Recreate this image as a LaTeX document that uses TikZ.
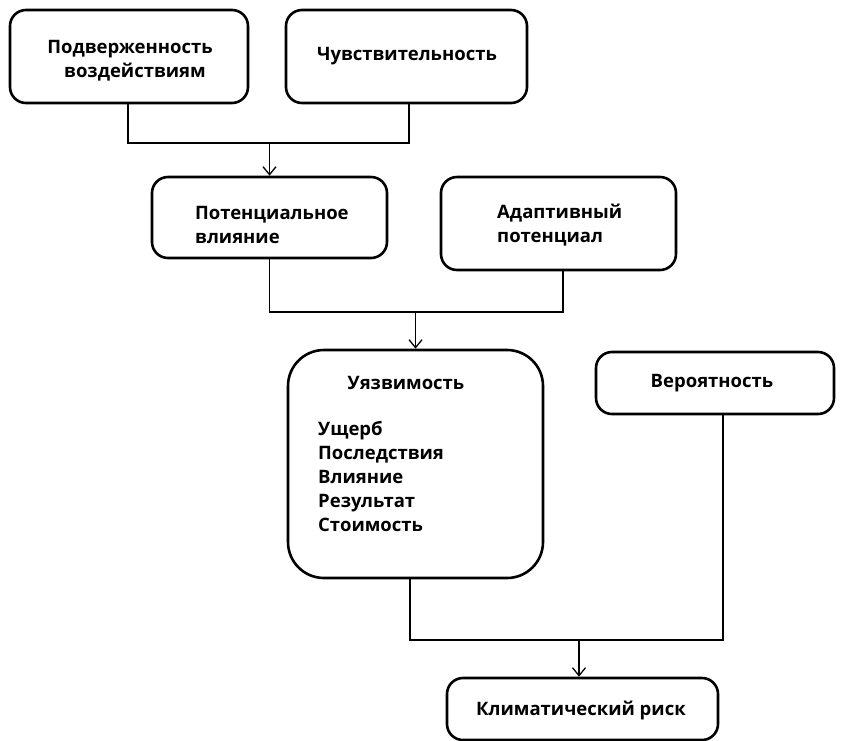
\documentclass[tikz,border=0pt]{standalone}
\usepackage{fontspec}
\setmainfont{Open Sans}
\usetikzlibrary{arrows.meta}
\begin{document}
\begin{tikzpicture}[x=1pt,y=-1pt,
  box/.style={draw, line width=2.6pt, rounded corners=16pt, inner sep=0pt},
  lbl/.style={font=\fontsize{18.5}{24}\selectfont\bfseries, inner sep=0pt, align=left, anchor=west},
  clbl/.style={font=\fontsize{18.5}{24}\selectfont\bfseries, inner sep=0pt, align=center},
  conn/.style={line width=1.3pt},
  arr/.style={line width=1.3pt, -{Straight Barb[length=8pt,width=13pt,line width=1.3pt]}}]
\useasboundingbox (0,0) rectangle (846,740);
% boxes
\node[box, minimum width=238pt, minimum height=93pt] (b1) at (129,56.5) {};
\node[box, minimum width=241pt, minimum height=93pt] (b2) at (406.5,56.5) {};
\node[box, minimum width=235pt, minimum height=81pt] (b3) at (269.5,217.5) {};
\node[box, minimum width=235pt, minimum height=93pt] (b4) at (558.5,223.5) {};
\node[box, rounded corners=36pt, minimum width=255pt, minimum height=228pt] (b5) at (415.5,464) {};
\node[box, minimum width=238pt, minimum height=62pt] (b6) at (715,383) {};
\node[box, minimum width=271pt, minimum height=62pt] (b7) at (582.5,709) {};
% texts
\node[clbl] (t1) at (130,61) {Подверженность\\\hspace*{10pt}воздействиям};
\node[clbl] (t2) at (407,56) {Чувствительность};
\node[lbl] (t3) at (195,225) {Потенциальное\\влияние};
\node[lbl] (t4) at (497,225) {Адаптивный\\потенциал};
\node[clbl] (t5) at (406,383) {Уязвимость};
\node[lbl, anchor=north west] (t5b) at (318,421) {Ущерб\\Последствия\\Влияние\\Результат\\Стоимость};
\node[clbl] (t6) at (712,383) {Вероятность};
\node[clbl] (t7) at (581,710) {Климатический риск};
% connectors
\coordinate (j1) at (269.5,143);
\draw[conn] ([xshift=-1pt]b1.south) |- (j1) -| ([xshift=2.5pt]b2.south);
\draw[arr] (j1) -- (b3.north);
\coordinate (j2) at (415.5,312);
\draw[conn] (b3.south) |- (j2) -| ([xshift=4.5pt]b4.south);
\draw[arr] (j2) -- (b5.north);
\coordinate (j3) at (579,640);
\draw[conn] ([xshift=-5.5pt]b5.south) |- (j3) -| ([xshift=8pt]b6.south);
\draw[arr] (j3) -- ([xshift=-3.5pt]b7.north);
\end{tikzpicture}
\end{document}
